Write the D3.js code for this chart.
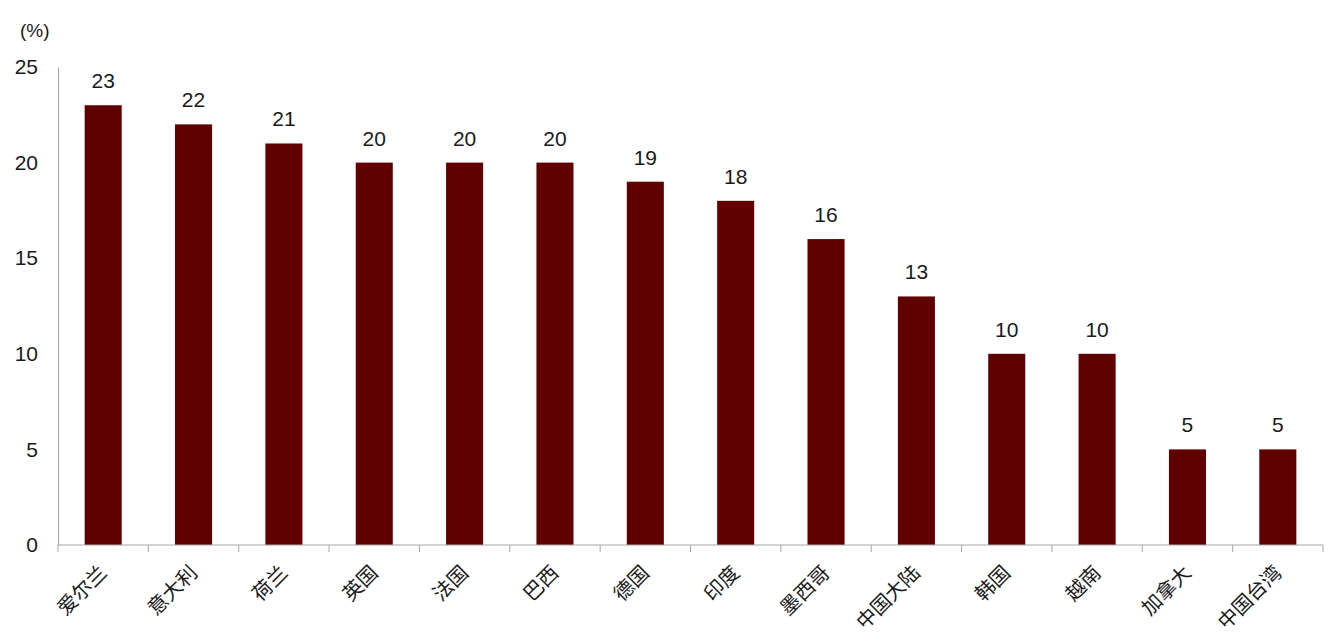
<!DOCTYPE html>
<html>
<head>
<meta charset="utf-8">
<script src="https://cdn.jsdelivr.net/npm/d3@7"></script>
<style>
  body { margin: 0; background: #fff; }
  text { font-family: Arial, "Liberation Sans", "Noto Sans CJK SC", sans-serif; fill: #1a1a1a; }
</style>
</head>
<body>
<script>
// categories and values
var countries = ["爱尔兰", "意大利", "荷兰", "英国", "法国", "巴西", "德国", "印度", "墨西哥", "中国大陆", "韩国", "越南", "加拿大", "中国台湾"];
var values = [23, 22, 21, 20, 20, 20, 19, 18, 16, 13, 10, 10, 5, 5];
var yTicks = [0, 5, 10, 15, 20, 25];

var data = countries.map(function (c, i) { return { name: c, value: values[i] }; });

var W = 1332, H = 642;
var margin = { top: 67, right: 9, bottom: 97, left: 58 };
var width = W - margin.left - margin.right,
    height = H - margin.top - margin.bottom;

var svg = d3.select("body").append("svg")
    .attr("width", W)
    .attr("height", H)
  .append("g")
    .attr("transform", "translate(" + margin.left + "," + margin.top + ")");

var x = d3.scaleBand()
    .domain(countries)
    .range([0, width])
    .paddingInner(0.59)
    .paddingOuter(0.295);

var y = d3.scaleLinear()
    .domain([0, 25])
    .range([height, 0]);

// y axis: line plus labels, no tick marks
var yAxis = svg.append("g")
    .call(d3.axisLeft(y).tickValues(yTicks).tickSize(0).tickPadding(20));
yAxis.select(".domain").attr("stroke", "#a6a6a6");
yAxis.selectAll("text").style("font-size", "21px").style("font-family", null);

svg.append("text")
    .attr("x", -38)
    .attr("y", -30)
    .style("font-size", "19px")
    .text("(%)");

// bars
svg.selectAll(".bar")
    .data(data)
  .enter().append("rect")
    .attr("class", "bar")
    .attr("x", function (d) { return x(d.name); })
    .attr("y", function (d) { return y(d.value); })
    .attr("width", x.bandwidth())
    .attr("height", function (d) { return height - y(d.value); })
    .attr("fill", "#600000");

svg.selectAll(".val")
    .data(data)
  .enter().append("text")
    .attr("class", "val")
    .attr("x", function (d) { return x(d.name) + x.bandwidth() / 2; })
    .attr("y", function (d) { return y(d.value) - 17; })
    .attr("text-anchor", "middle")
    .style("font-size", "21px")
    .text(function (d) { return d.value; });

// x axis: baseline with ticks between categories
var xg = svg.append("g")
    .attr("transform", "translate(0," + height + ")");
xg.append("line")
    .attr("x1", 0).attr("x2", width)
    .attr("stroke", "#a6a6a6");
var step = x.step();
xg.selectAll(".tk")
    .data(d3.range(countries.length + 1))
  .enter().append("line")
    .attr("class", "tk")
    .attr("x1", function (i) { return i * step; })
    .attr("x2", function (i) { return i * step; })
    .attr("y2", 7)
    .attr("stroke", "#a6a6a6");

xg.selectAll(".lab")
    .data(data)
  .enter().append("text")
    .attr("class", "lab")
    .attr("text-anchor", "end")
    .attr("transform", function (d) {
      return "translate(" + (x(d.name) + x.bandwidth() / 2 + 5) + ",29) rotate(-45)";
    })
    .style("font-size", "20px")
    .text(function (d) { return d.name; });
</script>
</body>
</html>
